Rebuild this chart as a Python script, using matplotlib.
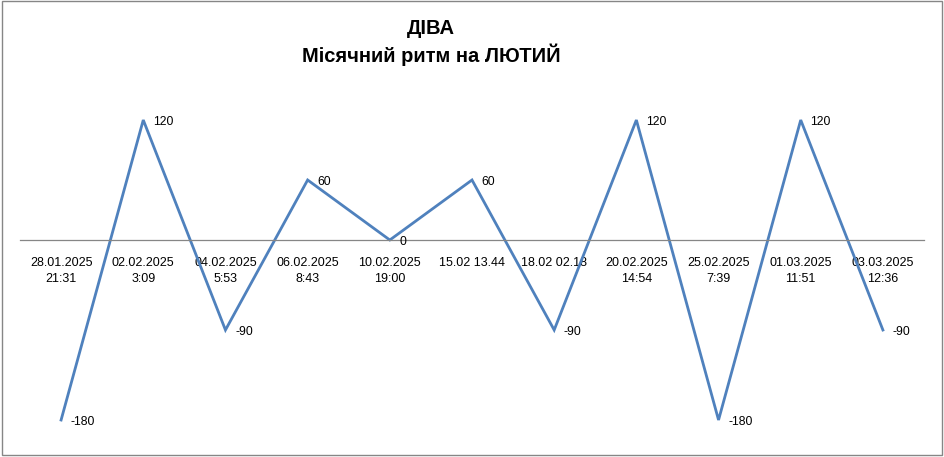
import matplotlib.pyplot as plt
import matplotlib.patches as patches

# ── Data ────────────────────────────────────────────────────
dates = ["28.01.2025\n21:31", "02.02.2025\n3:09", "04.02.2025\n5:53",
         "06.02.2025\n8:43", "10.02.2025\n19:00", "15.02 13.44",
         "18.02 02.18", "20.02.2025\n14:54", "25.02.2025\n7:39",
         "01.03.2025\n11:51", "03.03.2025\n12:36"]
rhythm = [-180, 120, -90, 60, 0, 60, -90, 120, -180, 120, -90]

plt.rcParams['font.family'] = ['Liberation Sans', 'DejaVu Sans']

fig = plt.figure(figsize=(9.44, 4.57), dpi=100)
ax = fig.add_axes([20 / 944, 1 - 440 / 457, 904 / 944, 340 / 457])

x = list(range(len(rhythm)))
ax.plot(x, rhythm, color='#4F81BD', linewidth=2.0, solid_joinstyle='miter')

for xi, v in zip(x, rhythm):
    ax.annotate(f"{v}", xy=(xi, v), xytext=(7, -1.5), textcoords='offset points',
                ha='left', va='center', fontsize=8.8, color='black')

ax.set_xlim(-0.5, len(rhythm) - 0.5)
ax.set_ylim(-200, 140)

# axis line through zero, labels hanging below it
ax.spines['bottom'].set_position(('data', 0))
ax.spines['bottom'].set_color('#868686')
ax.spines['bottom'].set_linewidth(0.9)
for s in ('top', 'left', 'right'):
    ax.spines[s].set_visible(False)
ax.set_yticks([])
ax.set_xticks(x)
ax.set_xticklabels(dates, fontsize=9, linespacing=1.45)
ax.tick_params(axis='x', length=0, pad=12.5)
ax.patch.set_alpha(0)

fig.text(431 / 944, 1 - 29 / 457, "ДІВА", ha='center', va='center',
         fontsize=14.5, fontweight='bold')
fig.text(431 / 944, 1 - 55 / 457, "Місячний ритм на ЛЮТИЙ", ha='center',
         va='center', fontsize=14.5, fontweight='bold')

# chart frame
fig.patches.append(patches.Rectangle((1.5 / 944, 2.5 / 457), 940.5 / 944, 453.5 / 457,
                                     transform=fig.transFigure, fill=False,
                                     edgecolor='#868686', linewidth=1.0))

fig.savefig("out.png", dpi=100)
